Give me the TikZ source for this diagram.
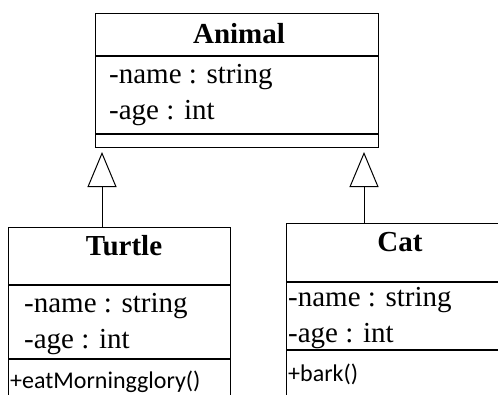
\documentclass[tikz,border=0pt]{standalone}
\usepackage{fontspec}
\setmainfont{Liberation Serif}
\newfontfamily\methfont{Carlito}
\usetikzlibrary{arrows.meta}
\begin{document}
\begin{tikzpicture}[x=1pt,y=-1pt,
  cls/.style={draw, line width=1.3pt, rectangle, anchor=north west, inner sep=0pt},
  sep/.style={line width=1.3pt},
  title/.style={font=\fontsize{29}{31}\selectfont\bfseries, anchor=base, inner sep=0pt},
  attr/.style={font=\fontsize{29}{31}\selectfont, anchor=base west, inner sep=0pt},
  meth/.style={font=\methfont\fontsize{24}{26}\selectfont, anchor=base west, inner sep=0pt},
  inh/.style={line width=1pt, -{Triangle[open, length=35pt, width=29pt, line width=1pt]}, shorten >=5pt}]
\useasboundingbox (0,0) rectangle (498,394);
\clip (0,0) rectangle (498,394);
\fill[white] (0,0) rectangle (498,394);
% Animal
\node[cls, minimum width=283pt, minimum height=134pt] (animal) at (95,13) {};
\draw[sep] (95,56) -- (378,56);
\draw[sep] (95,134) -- (378,134);
\node[title] (animalT) at (239,43) {Animal};
\node[attr] (animalA1) at (109,83) {-name : string};
\node[attr] (animalA2) at (109,119) {-age : int};
% Turtle
\node[cls, minimum width=222pt, minimum height=200pt] (turtle) at (8,227) {};
\draw[sep] (8,285) -- (230,285);
\draw[sep] (8,359) -- (230,359);
\node[title] (turtleT) at (124,255) {Turtle};
\node[attr] (turtleA1) at (24,312) {-name : string};
\node[attr] (turtleA2) at (24,348) {-age : int};
\node[meth] (turtleM) at (10,388) {+eatMorningglory()};
% Cat
\node[cls, minimum width=230pt, minimum height=200pt] (cat) at (286,223) {};
\draw[sep] (286,282) -- (516,282);
\draw[sep] (286,350) -- (516,350);
\node[title] (catT) at (400,251) {Cat};
\node[attr] (catA1) at (288,306) {-name : string};
\node[attr] (catA2) at (288,342) {-age : int};
\node[meth] (catM) at (288,381) {+bark()};
% inheritance
\coordinate (ta) at (102,147);
\coordinate (ca) at (364,147);
\draw[inh] (ta |- turtle.north) -- (ta);
\draw[inh] (ca |- cat.north) -- (ca);
\end{tikzpicture}
\end{document}
